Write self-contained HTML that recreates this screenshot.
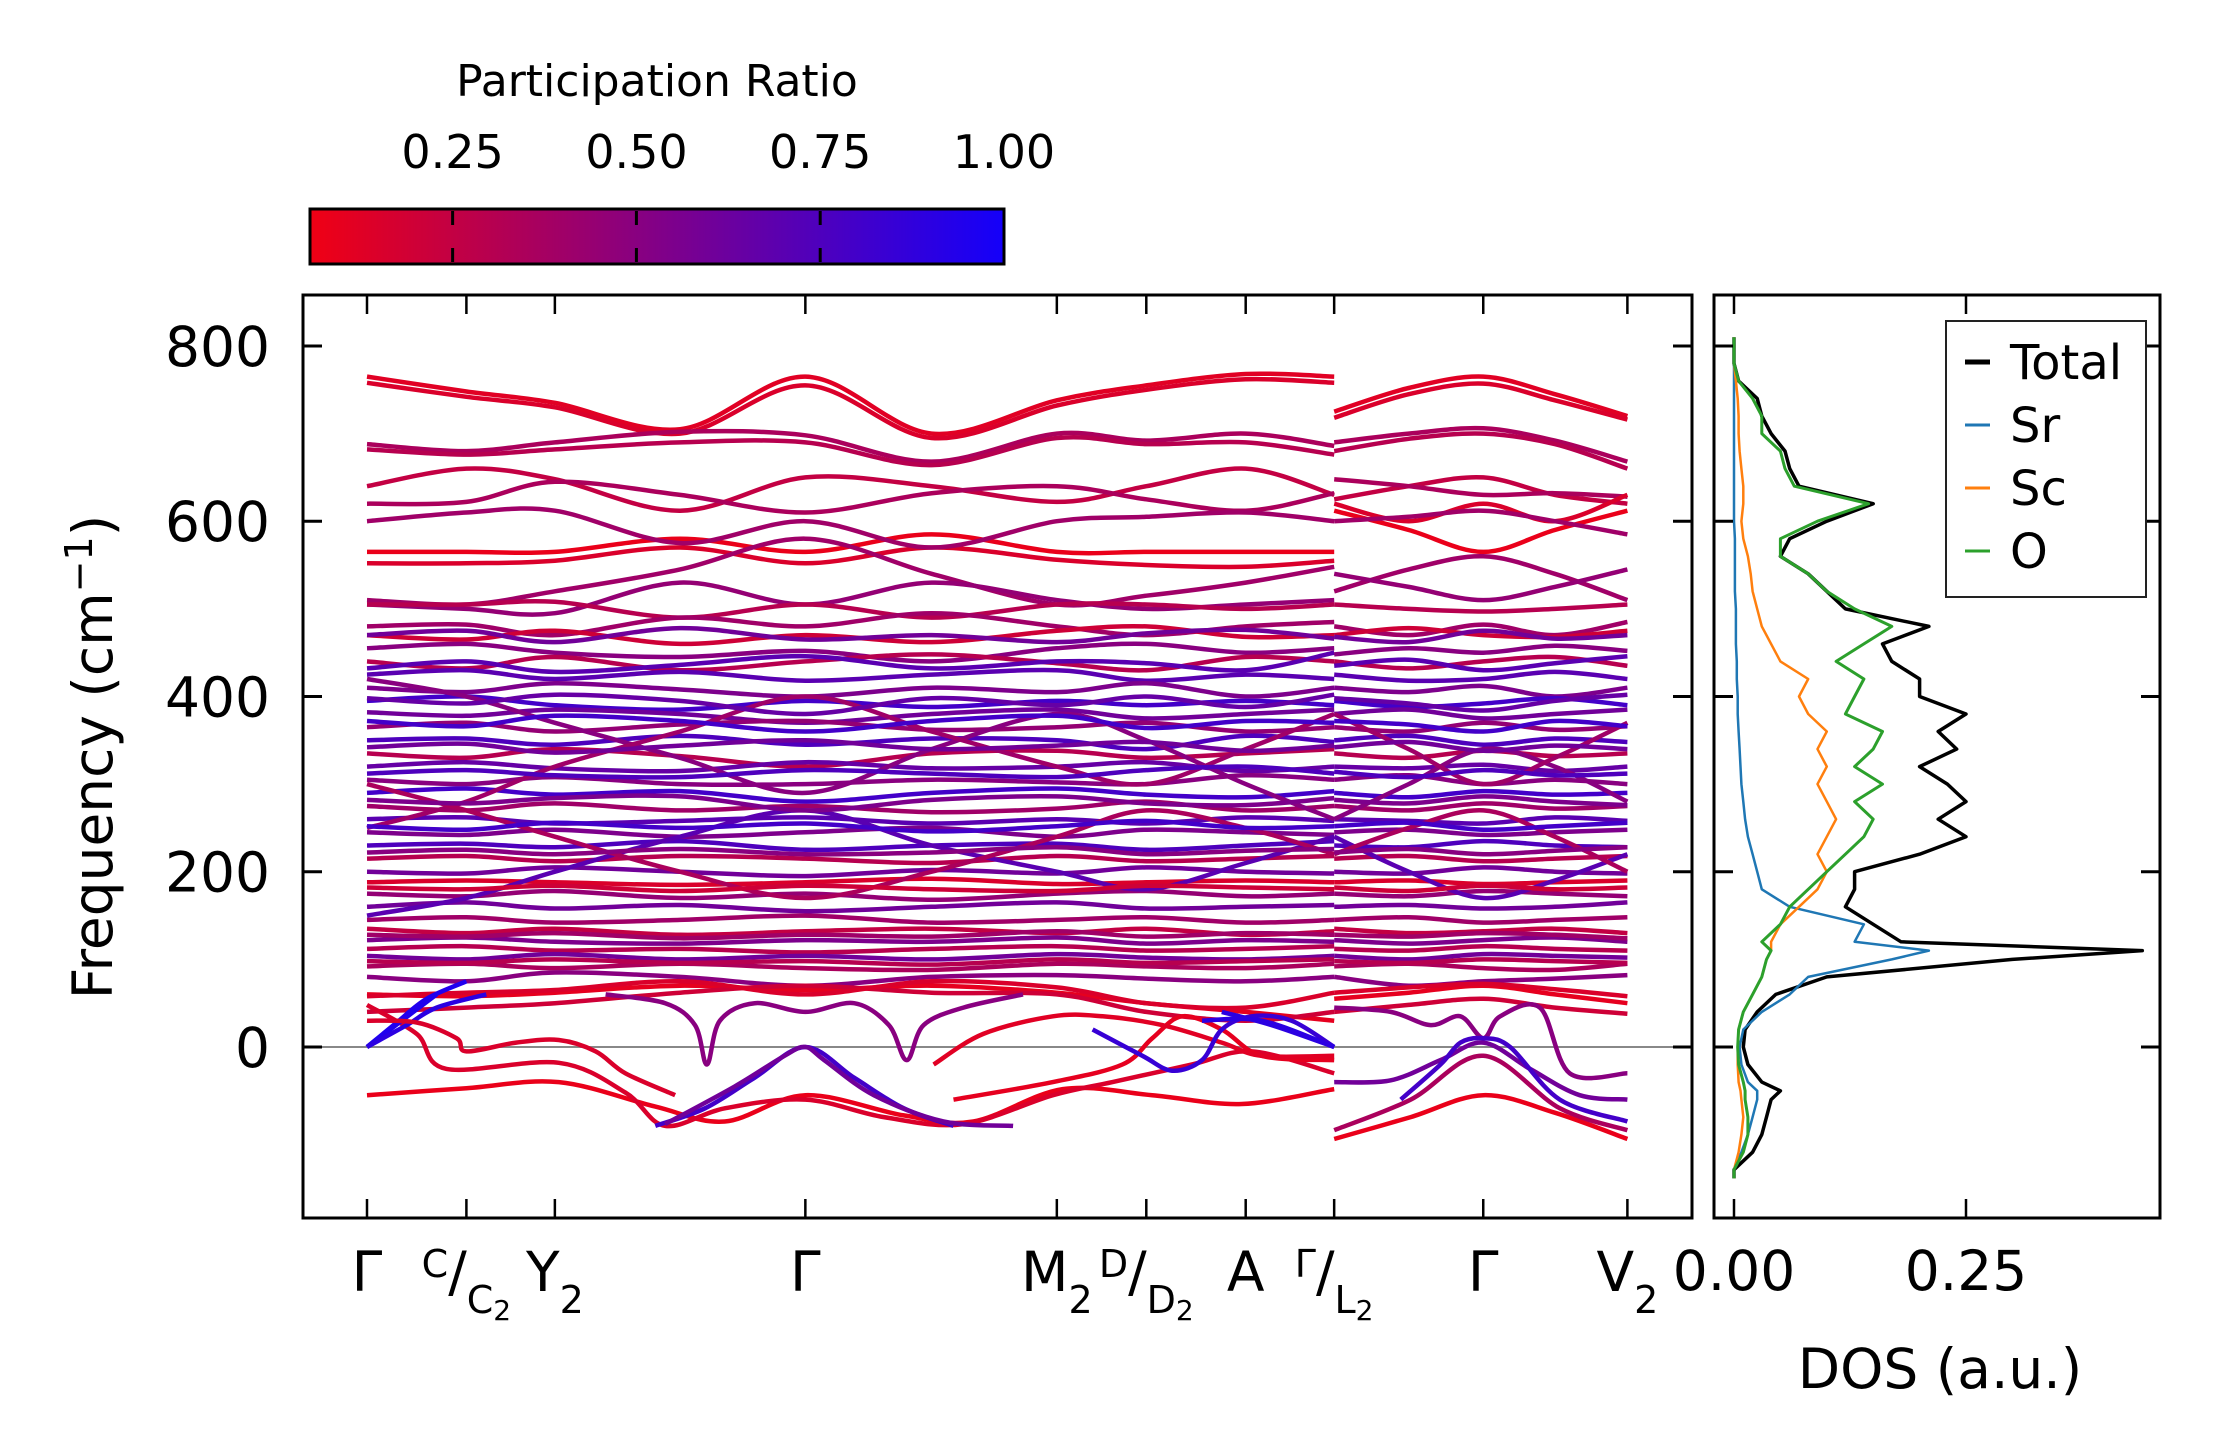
<!DOCTYPE html>
<html><head><meta charset="utf-8"><style>
html,body{margin:0;padding:0;background:#fff;}
svg{display:block;font-family:"DejaVu Sans","Liberation Sans",sans-serif;}
</style></head>
<body>
<svg id="chart" width="2222" height="1455" viewBox="0 0 2222 1455" xmlns="http://www.w3.org/2000/svg">
<defs>
<linearGradient id="cbgrad" x1="0" x2="1" y1="0" y2="0">
<stop offset="0" stop-color="rgb(240,0,20)"/><stop offset="1" stop-color="rgb(20,0,250)"/>
</linearGradient>
<clipPath id="bandclip"><rect x="303" y="295" width="1389" height="923"/></clipPath>
<clipPath id="dosclip"><rect x="1714" y="295" width="446" height="923"/></clipPath>
</defs>
<g id="colorbar">
<text x="657" y="96" font-size="44" text-anchor="middle">Participation Ratio</text>
<rect x="310" y="209" width="694" height="55" fill="url(#cbgrad)" stroke="#000" stroke-width="3"/>
</g>
<g id="bands" clip-path="url(#bandclip)"></g>
<g id="dos" clip-path="url(#dosclip)"></g>
<g id="axes"></g>
<text transform="translate(112,757) rotate(-90)" font-size="55" text-anchor="middle">Frequency (cm<tspan dy="-20" font-size="38">−1</tspan><tspan dy="20">)</tspan></text>
<text x="1940" y="1388" font-size="55" text-anchor="middle">DOS (a.u.)</text>
<g id="xlabels" font-size="55"></g>
<g id="legend">
<rect x="1946" y="321" width="200" height="276" fill="#fff" stroke="#222" stroke-width="2"/>
</g>
<script>
// ---- Colorbar data ----
const cbTicks = [0.25, 0.50, 0.75, 1.00];
const cbTickLabels = ["0.25", "0.50", "0.75", "1.00"];
const cbMin = 0.056, cbMax = 1.0;
// ---- Axis data ----
const yTicks = [0, 200, 400, 600, 800];
const yTickLabels = ["0", "200", "400", "600", "800"];
const kTicks = [0, 1, 1.89, 4.41, 6.94, 7.84, 8.84, 9.73, 11.23, 12.68];
const kLabels = [
 [["Γ","n"]],
 [["C","sup"],["/","n"],["C","sub"],["2","sub2"]],
 [["Y","n"],["2","sub"]],
 [["Γ","n"]],
 [["M","n"],["2","sub"]],
 [["D","sup"],["/","n"],["D","sub"],["2","sub2"]],
 [["A","n"]],
 [["Γ","sup"],["/","n"],["L","sub"],["2","sub2"]],
 [["Γ","n"]],
 [["V","n"],["2","sub"]]
];
const dosTicks = [0, 0.25];
const dosTickLabels = ["0.00", "0.25"];
// ---- Band data: node k-positions ----
const seg1K = [0, 1, 1.89, 3.15, 4.41, 5.68, 6.94, 7.84, 8.84, 9.73];
const seg2K = [9.73, 10.48, 11.23, 11.95, 12.68];
const seg1F = [
[765,748,735,705,765,700,738,755,768,765],[758,742,730,700,755,695,732,750,762,758],
[688,680,690,702,698,668,700,692,700,686],[682,676,682,690,690,664,695,688,690,676],
[640,660,648,612,650,640,622,640,660,630],[620,622,645,630,610,632,640,625,612,632],
[565,565,565,580,565,585,565,565,565,565],[552,552,555,570,552,570,556,550,548,555],
[600,610,612,575,600,570,600,605,610,600],[510,505,520,545,580,540,505,515,530,548],
[505,500,495,530,505,530,510,500,505,510],[505,505,508,490,505,490,505,505,500,505],
[480,482,470,490,480,495,480,470,480,485],[470,465,475,460,470,462,475,480,468,470],
[455,460,450,445,452,440,455,460,450,455],[440,432,445,430,440,448,438,430,445,440],
[425,430,420,428,418,425,430,418,425,420],[410,405,415,408,400,410,405,415,400,410],
[395,400,390,385,395,388,395,390,395,390],[382,378,385,380,370,380,385,375,380,385],
[365,370,360,368,372,362,365,370,360,365],[350,352,345,355,345,352,350,340,355,348],
[335,330,340,332,320,335,338,330,335,340],[320,325,318,315,325,318,320,325,315,320],
[305,300,308,300,300,305,302,300,310,305],[290,295,288,292,280,290,295,288,285,292],
[275,270,278,270,275,268,272,280,270,275],[260,262,255,258,262,255,260,255,262,258],
[245,242,248,240,245,250,240,248,245,242],[230,232,228,235,225,230,232,225,230,235],
[215,218,212,218,215,210,218,212,215,218],[200,198,205,200,195,202,198,205,200,198],
[188,190,188,185,188,192,186,188,190,188],[175,172,178,170,175,168,175,178,172,175],
[160,165,158,162,155,160,165,158,160,162],[145,148,142,145,150,142,145,148,142,145],
[135,130,135,128,132,135,130,135,128,132],[122,125,120,118,122,120,125,118,122,120],
[112,115,110,112,108,112,115,110,112,115],[104,100,106,100,104,100,106,102,100,104],
[92,95,90,95,90,88,95,92,90,95],[80,75,85,80,70,80,82,78,75,80],
[420,400,370,330,290,340,380,350,300,260],[250,280,320,360,400,360,320,300,340,380],
[150,170,200,240,270,230,200,180,210,240],[300,270,240,200,170,200,240,270,250,220],
[60,58,62,70,65,70,62,50,40,30],[40,45,50,62,70,62,60,40,30,40],
[470,475,462,478,465,470,462,472,476,466],[432,440,428,436,446,432,440,438,430,450],
[398,392,402,395,380,398,390,400,388,402],[372,366,378,372,360,372,378,364,372,370],
[342,346,336,344,350,340,344,348,338,344],[312,316,310,308,316,312,308,316,320,312],
[282,278,284,286,270,282,286,278,276,284],[252,248,256,250,255,246,252,258,250,252],
[222,225,220,226,220,222,228,220,224,226],[182,180,184,178,184,180,178,184,182,180],
[128,126,130,124,128,126,132,126,130,128],[98,96,100,96,98,94,100,96,98,100],
[58,62,65,75,60,75,68,50,45,62]
];
const seg2F = [
[725,752,765,745,720],[718,745,757,738,716],[690,700,706,692,668],[680,694,700,688,660],
[625,640,650,630,620],[648,640,630,632,628],[612,590,565,590,612],[620,600,620,600,630],
[600,605,612,600,585],[520,545,560,540,510],[540,525,510,525,545],[505,500,497,500,505],
[480,470,482,470,485],[470,478,470,468,475],[448,455,450,458,452],[440,432,440,445,435],
[425,418,420,428,420],[410,405,412,400,410],[395,388,392,398,390],[380,385,375,380,385],
[365,360,370,362,366],[350,355,345,352,348],[335,330,338,332,335],[320,318,322,315,320],
[305,310,300,305,300],[290,285,292,288,290],[275,270,278,272,275],[260,258,255,262,258],
[245,248,242,245,248],[230,228,235,230,228],[215,218,212,215,218],[200,198,205,200,198],
[188,190,186,188,190],[175,172,178,175,172],[160,162,158,160,165],[145,148,142,145,148],
[135,130,132,135,130],[122,118,122,125,120],[112,110,115,112,110],[104,100,106,104,102],
[92,95,90,88,95],[80,70,75,78,82],
[260,300,340,320,280],[380,340,300,330,370],[240,200,170,190,220],[220,250,270,240,200],
[55,62,70,60,50],[40,48,55,45,38],
[468,462,475,466,470],[435,442,430,438,446],[398,392,384,395,402],[372,368,360,372,366],
[342,348,338,344,340],[314,308,316,310,312],[282,278,286,280,276],[252,256,248,252,256],
[222,226,220,224,228],[182,178,184,180,182],[128,126,130,128,124],[98,96,100,98,96],
[62,68,72,66,58]
];
const bandPR = [.12,.15,.35,.3,.25,.35,.08,.15,.4,.4,.45,.3,
.4,.2,.5,.3,.7,.55,.8,.6,.45,.75,.3,.65,.5,.8,.4,.7,.55,.75,.3,.6,.15,.45,.6,.4,.25,.55,.3,.6,.35,.5,
.5,.4,.7,.35,.1,.2,
.6,.7,.65,.8,.6,.75,.55,.8,.5,.2,.4,.3,.15];
// ---- Low-frequency branches (k, freq) ----
const lowK = [
[0,1,1.93,2.9,3.6,4.41,5.4,6.1,7.0,7.9,8.8,9.73],
[0,0.5,0.8,1.93,2.6,3.0,3.6,4.41,5.2,6.0,6.9,7.5,8.3,8.9,9.73],
[0,0.3,0.6,1.0],[0,0.35,0.7],[0,0.4,0.7,1.2],
[2.9,3.4,3.9,4.41,4.9,5.4,5.9],
[3.0,3.7,4.2,4.41,4.6,5.1,5.8,6.5],
[2.4,3.0,3.3,3.42,3.55,3.9,4.41,4.9,5.25,5.43,5.6,6.0,6.6],
[0,0.5,0.9,1.0,1.5,1.93,2.3,2.6,3.1],
[5.9,6.9,7.6,7.9,8.2,8.6,9.0,9.73],
[5.7,6.2,6.9,7.4,8.0,8.6,9.0,9.73],
[7.3,7.8,8.1,8.4,8.6,8.9,9.3,9.73],
[8.6,9.1,9.73],[8.4,9.0,9.73],
[9.73,10.5,11.23,11.95,12.68],
[9.73,10.5,11.23,12.0,12.68],
[9.73,10.3,10.8,11.23,11.7,12.2,12.68],
[9.73,10.3,10.7,11.0,11.23,11.4,11.8,12.1,12.68],
[10.4,10.8,11.0,11.23,11.5,12.0,12.68]
];
const lowF = [
[-55,-47,-40,-68,-85,-55,-78,-85,-48,-55,-65,-48],
[48,15,-25,-18,-52,-90,-70,-60,-80,-88,-55,-40,-20,-5,-30],
[0,28,55,75],[0,30,60],[0,25,45,60],
[-90,-70,-35,0,-35,-70,-90],
[-88,-45,-10,0,-15,-55,-85,-90],
[60,50,25,-20,30,50,40,50,25,-15,25,45,60],
[30,28,10,-5,5,8,-5,-30,-55],
[-60,-40,-20,10,35,20,-10,-15],
[-20,15,35,35,25,5,-10,-10],
[20,-10,-27,-15,20,35,30,0],
[40,25,0],[30,30,0],
[-105,-80,-55,-75,-105],
[-95,-60,-10,-70,-95],
[-40,-38,-15,5,-25,-55,-60],
[45,40,25,35,10,35,45,-30,-30],
[-60,-20,5,10,0,-60,-85]
];
const lowPR = [.08,.15,.95,.95,.9,.8,.6,.5,.15,.1,.12,.85,.9,.9,.08,.35,.6,.5,.8];
// ---- DOS data ----
const dosFreq = [-150,-140,-120,-100,-80,-60,-50,-40,-20,0,20,40,60,80,100,110,120,140,160,180,200,220,240,260,280,300,320,340,360,380,400,420,440,460,480,500,520,540,560,580,600,620,640,660,680,700,720,740,760,780,800,810];
const dosTotal = [0,0,.02,.03,.035,.04,.05,.03,.015,.01,.012,.025,.045,.1,.3,.44,.18,.15,.12,.13,.13,.2,.25,.22,.25,.23,.2,.24,.22,.25,.2,.2,.17,.16,.21,.12,.1,.08,.05,.06,.1,.15,.07,.06,.055,.04,.03,.025,.005,0,0,0];
const dosSr = [0,0,.008,.015,.02,.025,.025,.015,.008,.006,.01,.03,.06,.08,.17,.21,.13,.14,.06,.03,.025,.02,.015,.012,.01,.008,.007,.006,.005,.004,.004,.003,.003,.002,.002,.002,.001,.001,.001,.001,0,0,0,0,0,0,0,0,0,0,0,0];
const dosSc = [0,0,.005,.008,.01,.008,.007,.005,.004,.004,.005,.01,.02,.03,.035,.04,.04,.05,.07,.09,.1,.09,.1,.11,.1,.09,.1,.09,.1,.08,.07,.08,.05,.04,.03,.025,.02,.018,.015,.01,.008,.01,.01,.008,.006,.005,.005,.004,.002,0,0,0];
const dosO = [0,0,.01,.015,.015,.012,.012,.01,.005,.004,.005,.01,.02,.03,.035,.04,.03,.05,.06,.08,.1,.12,.14,.15,.13,.16,.13,.15,.16,.12,.13,.14,.11,.14,.17,.13,.1,.08,.05,.05,.09,.145,.065,.055,.05,.03,.03,.02,.005,0,0,0];
const legendLabels = ["Total","Sr","Sc","O"];
const legendColors = ["#000000","#1f77b4","#ff7f0e","#2ca02c"];

// ---- scales ----
const NS = "http://www.w3.org/2000/svg";
const yS = f => 1047 - f * 0.8763;
const xK = k => 367 + k * 99.4;
const xD = v => 1734 + v * 928;
const xCB = v => 310 + (v - cbMin) / (cbMax - cbMin) * 694;
function prColor(p){
  const t = Math.max(0, Math.min(1, (p - cbMin) / (cbMax - cbMin)));
  const r = Math.round(240 + (20 - 240) * t), b = Math.round(20 + (250 - 20) * t);
  return `rgb(${r},0,${b})`;
}
function smoothPath(xs, ys){
  let d = `M${xs[0].toFixed(1)},${ys[0].toFixed(1)}`;
  for (let i = 0; i < xs.length - 1; i++){
    const x0 = xs[Math.max(0,i-1)], y0 = ys[Math.max(0,i-1)];
    const x1 = xs[i], y1 = ys[i], x2 = xs[i+1], y2 = ys[i+1];
    const x3 = xs[Math.min(xs.length-1,i+2)], y3 = ys[Math.min(xs.length-1,i+2)];
    const c1x = x1 + (x2 - x0) / 6, c1y = y1 + (y2 - y0) / 6;
    const c2x = x2 - (x3 - x1) / 6, c2y = y2 - (y3 - y1) / 6;
    d += ` C${c1x.toFixed(1)},${c1y.toFixed(1)} ${c2x.toFixed(1)},${c2y.toFixed(1)} ${x2.toFixed(1)},${y2.toFixed(1)}`;
  }
  return d;
}
function mk(tag, attrs, parent){
  const e = document.createElementNS(NS, tag);
  for (const k in attrs) e.setAttribute(k, attrs[k]);
  parent.appendChild(e);
  return e;
}
const gB = document.getElementById("bands");
const zl = mk("line", {x1:303, x2:1692, y1:yS(0), y2:yS(0), stroke:"#888", "stroke-width":2}, gB);


seg1F.forEach((arr, i) => {
  const p = mk("path", {d: smoothPath(seg1K.map(xK), arr.map(yS)), fill:"none", stroke:prColor(bandPR[i]), "stroke-width":4.5}, gB);
  
  
});
seg2F.forEach((arr, i) => {
  const p = mk("path", {d: smoothPath(seg2K.map(xK), arr.map(yS)), fill:"none", stroke:prColor(bandPR[i]), "stroke-width":4.5}, gB);
  
  
});
lowK.forEach((ks, i) => {
  const p = mk("path", {d: smoothPath(ks.map(xK), lowF[i].map(yS)), fill:"none", stroke:prColor(lowPR[i]), "stroke-width":4.5}, gB);
  
  
});
// DOS
const gD = document.getElementById("dos");
[[dosTotal,0,3.5],[dosSr,1,2.5],[dosSc,2,2.5],[dosO,3,3]].forEach(([s,ci,w]) => {
  const pts = s.map((v,j) => `${xD(v).toFixed(1)},${yS(dosFreq[j]).toFixed(1)}`).join(" ");
  const pl = mk("polyline", {points: pts, fill:"none", stroke:legendColors[ci], "stroke-width":w, "stroke-linejoin":"round"}, gD);
  
  
});
// axes
const gA = document.getElementById("axes");
const frames = [[303,295,1389,923],[1714,295,446,923]];
frames.forEach(([x,y,w,h]) => {
  const r = mk("rect", {x, y, width:w, height:h, fill:"none", stroke:"#000", "stroke-width":3}, gA);
  
  
});
yTicks.forEach((f, i) => {
  const y = yS(f);
  [[303,322],[1692,1673],[1714,1733],[2160,2141]].forEach(([a,b]) => {
    const t = mk("line", {x1:a, x2:b, y1:y, y2:y, stroke:"#000", "stroke-width":3}, gA);
    
    
  });
  const tx = mk("text", {x:270, y:y + 20, "font-size":55, "text-anchor":"end"}, gA);
  tx.textContent = yTickLabels[i];
  
  
});
kTicks.forEach(k => {
  const x = xK(k);
  [[1218,1199],[295,314]].forEach(([a,b]) => {
    const t = mk("line", {x1:x, x2:x, y1:a, y2:b, stroke:"#000", "stroke-width":2.5}, gA);
    
    
  });
});
dosTicks.forEach((v, i) => {
  const x = xD(v);
  [[1218,1199],[295,314]].forEach(([a,b]) => {
    const t = mk("line", {x1:x, x2:x, y1:a, y2:b, stroke:"#000", "stroke-width":2.5}, gA);
    
    
  });
  const tx = mk("text", {x:x, y:1290, "font-size":55, "text-anchor":"middle"}, gA);
  tx.textContent = dosTickLabels[i];
  
  
});
// k labels built with tspans (relative dy keeps one text chunk for centering)
const gX = document.getElementById("xlabels");
const roleStyle = {n:[55,1291], sup:[38,1277], sub:[38,1313], sub2:[28,1320]};
kTicks.forEach((k, i) => {
  const tx = mk("text", {x:xK(k), y:1291, "text-anchor":"middle"}, gX);
  
  
  let cur = 1291;
  kLabels[i].forEach(([s, role]) => {
    const [fs, yy] = roleStyle[role];
    const ts = mk("tspan", {"font-size":fs, dy:(yy - cur)}, tx);
    cur = yy;
    ts.textContent = s;
  });
});
// colorbar ticks
const gC = document.getElementById("colorbar");
cbTicks.forEach((v, i) => {
  const x = xCB(v);
  if (v < cbMax) {
    [[211,225],[262,248]].forEach(([a,b]) => {
      const t = mk("line", {x1:x, x2:x, y1:a, y2:b, stroke:"#000", "stroke-width":3}, gC);
      
      
    });
  }
  const tx = mk("text", {x:x, y:168, "font-size":46, "text-anchor":"middle"}, gC);
  tx.textContent = cbTickLabels[i];
  
  
});
// legend
const gL = document.getElementById("legend");
legendLabels.forEach((lab, i) => {
  const y = 362 + i * 63;
  const ln = mk("line", {x1:1965, x2:1990, y1:y, y2:y, stroke:legendColors[i], "stroke-width": i === 0 ? 5 : 3}, gL);
  
  
  const tx = mk("text", {x:2010, y:y + 17, "font-size":48}, gL);
  tx.textContent = lab;
  
  
});
</script>
</svg>
</body></html>
